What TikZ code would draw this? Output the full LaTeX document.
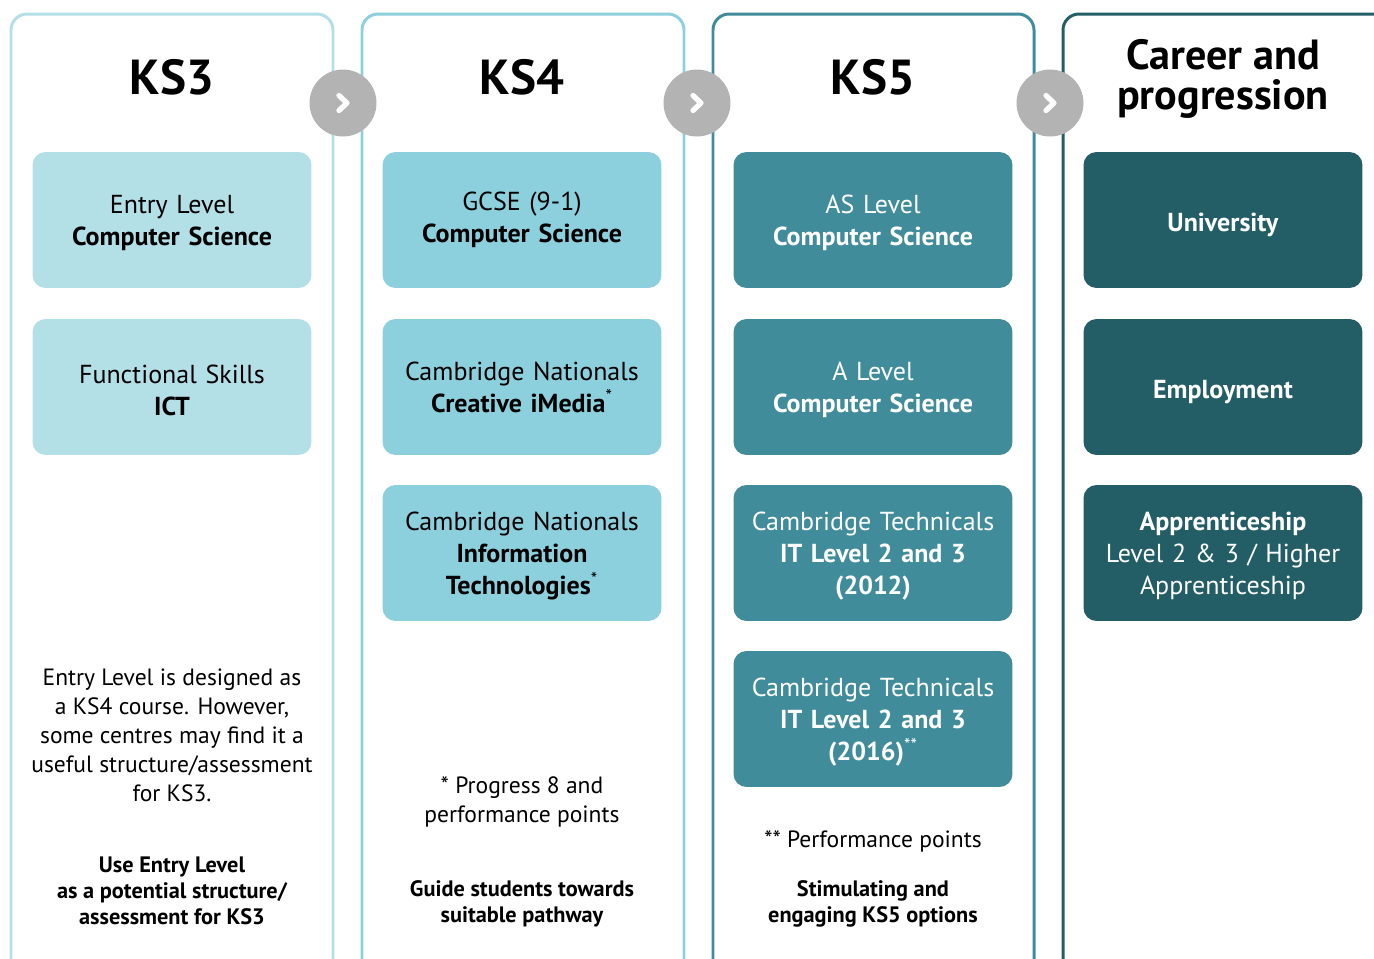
\documentclass[tikz,border=0pt]{standalone}
\usepackage{fontspec}
\setmainfont{PT Sans}
\usetikzlibrary{positioning}

\definecolor{ksthree}{HTML}{B3DFE7}
\definecolor{ksfour}{HTML}{8DD0DD}
\definecolor{ksfive}{HTML}{408C9B}
\definecolor{career}{HTML}{235D66}
\definecolor{chevgray}{HTML}{B3B3B3}

\begin{document}
\begin{tikzpicture}[x=0.02cm, y=-0.02cm,
    frame/.style = {line width=1.7pt, rounded corners=0.32cm},
    stage/.style = {rectangle, rounded corners=0.26cm, minimum width=5.58cm,
                    minimum height=2.72cm, text width=5.4cm, inner sep=0pt,
                    align=center, font=\fontsize{14.8}{18.2}\selectfont},
    ks3box/.style = {stage, fill=ksthree, text=black},
    ks4box/.style = {stage, fill=ksfour, text=black},
    ks5box/.style = {stage, fill=ksfive, text=white},
    carbox/.style = {stage, fill=career, text=white},
    heading/.style = {font=\bfseries\fontsize{28}{30}\selectfont},
    note/.style = {align=center, font=\fontsize{13.4}{16.5}\selectfont},
    tagline/.style = {align=center, font=\bfseries\fontsize{12.7}{14.8}\selectfont},
    nextarrow/.style = {circle, fill=chevgray, minimum size=1.34cm, inner sep=0pt},
    chev/.style = {white, line width=3pt, line cap=round, line join=round},
]
\useasboundingbox (0,0) rectangle (1374,958);
\clip (0,0) rectangle (1374,958);

%% ---- Column frames (open at the bottom) ----
\draw[frame, ksthree] (11,980) -- (11,14) -- (333,14) -- (333,980);
\draw[frame, ksfour]  (362,980) -- (362,14) -- (684,14) -- (684,980);
\draw[frame, ksfive]  (713,980) -- (713,14) -- (1034,14) -- (1034,980);
\draw[frame, career]  (1063,980) -- (1063,14) -- (1400,14) -- (1400,980);

%% ---- Headings ----
\node[heading] (h3) at (172,77) {KS3};
\node[heading] (h4) at (522,77) {KS4};
\node[heading] (h5) at (873,77) {KS5};
\node[heading, align=center, font=\bfseries\fontsize{24}{22.8}\selectfont]
    (hc) at (1223,79) {Career and\\progression};

%% ---- KS3 ----
\node[ks3box] (k3a) at (172,220) {\\[-4pt]Entry Level\\\textbf{Computer Science}};
\node[ks3box] (k3b) at (172,387) {\\[-4pt]Functional Skills\\\textbf{ICT}};

%% ---- KS4 ----
\node[ks4box] (k4a) at (522,220) {GCSE (9-1)\\\textbf{Computer Science}\\[2pt]};
\node[ks4box] (k4b) at (522,387) {Cambridge Nationals\\\textbf{Creative iMedia}\textsuperscript{*}};
\node[ks4box] (k4c) at (522,553) {\\[-4pt]Cambridge Nationals\\\textbf{Information}\\\textbf{Technologies}\textsuperscript{*}};

%% ---- KS5 ----
\node[ks5box] (k5a) at (873,220) {\\[-4pt]AS Level\\\textbf{Computer Science}};
\node[ks5box] (k5b) at (873,387) {\\[-4pt]A Level\\\textbf{Computer Science}};
\node[ks5box] (k5c) at (873,553) {\\[-4pt]Cambridge Technicals\\\textbf{IT Level 2 and 3}\\\textbf{(2012)}};
\node[ks5box] (k5d) at (873,719) {\\[-4pt]Cambridge Technicals\\\textbf{IT Level 2 and 3}\\\textbf{(2016)}\textsuperscript{**}};

%% ---- Career and progression ----
\node[carbox] (c1) at (1223,220) {\\[-2pt]\textbf{University}};
\node[carbox] (c2) at (1223,387) {\\[-2pt]\textbf{Employment}};
\node[carbox] (c3) at (1223,553) {\\[-4pt]\textbf{Apprenticeship}\\Level 2 \& 3 / Higher\\Apprenticeship};

%% ---- Notes ----
\node[note] (n3) at (172,735) {Entry Level is designed as\\a KS4 course. However,\\some centres may find it a\\useful structure/assessment\\for KS3.};
\node[note] (n4) at (522,802) {* Progress 8 and\\performance points};
\node[note] (n5) at (873,841) {** Performance points};

%% ---- Taglines ----
\node[tagline] (t3) at (172,891) {Use Entry Level\\as a potential structure/\\assessment for KS3};
\node[tagline] (t4) at (522,904) {Guide students towards\\suitable pathway};
\node[tagline] (t5) at (873,904) {Stimulating and\\engaging KS5 options};

%% ---- Progression arrows ----
\foreach \nm/\cx in {a1/343, a2/697, a3/1050} {
    \node[nextarrow] (\nm) at (\cx,103) {};
    \draw[chev] ([xshift=-0.08cm, yshift=0.15cm]\nm.center) -- ([xshift=0.08cm]\nm.center)
        -- ([xshift=-0.08cm, yshift=-0.15cm]\nm.center);
}

\end{tikzpicture}
\end{document}
